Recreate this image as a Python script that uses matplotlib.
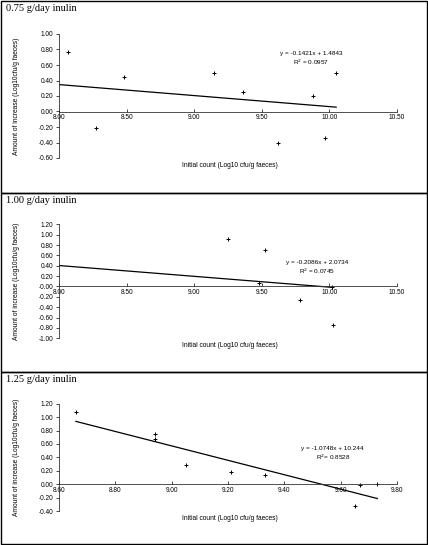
import matplotlib
matplotlib.use("Agg")
import matplotlib.pyplot as plt
from matplotlib.patches import Rectangle
import numpy as np

plt.rcParams['font.family'] = ['Liberation Sans', 'DejaVu Sans']

# donnees
titres = ["0.75 g/day inulin", "1.00 g/day inulin", "1.25 g/day inulin"]

x_075 = [8.07, 8.27, 8.48, 9.15, 9.36, 9.62, 9.88, 9.97, 10.05]
y_075 = [0.77, -0.21, 0.45, 0.50, 0.25, -0.41, 0.20, -0.34, 0.50]

x_100 = [9.25, 9.52, 9.48, 9.78, 10.03, 10.02]
y_100 = [0.92, 0.71, 0.06, -0.26, -0.75, -0.01]

x_125 = [8.66, 8.94, 8.94, 9.05, 9.21, 9.33, 9.67, 9.73, 9.65]
y_125 = [1.08, 0.75, 0.67, 0.29, 0.18, 0.13, -0.01, 0.01, -0.32]

# droites de tendance (pente, ordonnee) et etendue
pentes = [-0.1421, -0.2086, -1.0748]
ordonnees = [1.4843, 2.0734, 10.244]
etendues = [(8.00, 10.05), (8.00, 10.03), (8.66, 9.73)]
equations = ["y = -0.1421x + 1.4843", "y = -0.2086x + 2.0734", "y = -1.0748x + 10.244"]
r2_textes = ["R$^2$ = 0.0957", "R$^2$ = 0.0745", "R$^2$= 0.8528"]

xlims = [(8.0, 10.5), (8.0, 10.5), (8.6, 9.8)]
xpas = [0.5, 0.5, 0.2]
ylims = [(-0.6, 1.0), (-1.0, 1.2), (-0.4, 1.2)]

W, H = 428, 545
fig = plt.figure(figsize=(W / 100, H / 100), dpi=100)

# positions en pixels : (haut axe, bas axe), cadre (haut, bas), titre, label x, equation
axes_px = [(34, 158), (224.3, 338.3), (403.7, 511)]
cadres = [(1, 193), (193, 372), (372, 544)]
titre_y = [8.5, 200.7, 380]
xlabel_y = [165.7, 345.7, 519]
eq_pos = [(311, 53.7), (316.7, 262.3), (332.7, 448.7)]

donnees = [(x_075, y_075), (x_100, y_100), (x_125, y_125)]

for i in range(3):
    haut, bas = axes_px[i]
    ax = fig.add_axes([59 / W, 1 - bas / H, (397 - 59) / W, (bas - haut) / H])
    xs, ys = donnees[i]
    ax.plot(xs, ys, '+', color='black', markersize=2.5, markeredgewidth=0.7)
    xl = np.array(etendues[i])
    ax.plot(xl, pentes[i] * xl + ordonnees[i], color='black', linewidth=0.9)

    ax.set_xlim(*xlims[i])
    ax.set_ylim(*ylims[i])
    ax.set_xticks(np.arange(xlims[i][0], xlims[i][1] + 0.001, xpas[i]))
    ax.set_yticks(np.arange(ylims[i][0], ylims[i][1] + 0.001, 0.2))
    ax.xaxis.set_major_formatter(plt.FormatStrFormatter('%.2f'))
    ax.yaxis.set_major_formatter(plt.FormatStrFormatter('%.2f'))
    ax.spines['top'].set_visible(False)
    ax.spines['right'].set_visible(False)
    ax.spines['bottom'].set_position(('data', 0))
    for s in ['left', 'bottom']:
        ax.spines[s].set_linewidth(0.6)
        ax.spines[s].set_color('#333333')
    ax.tick_params(axis='x', direction='in', length=2.5, width=0.5, labelsize=4.7, pad=2)
    ax.tick_params(axis='y', direction='out', length=2.5, width=0.5, labelsize=4.7, pad=1.5)
    ax.patch.set_alpha(0)

    # equation
    ex, ey = eq_pos[i]
    fig.text(ex / W, 1 - ey / H, equations[i], fontsize=4.6, ha='center', va='center')
    fig.text(ex / W, 1 - (ey + 9) / H, r2_textes[i], fontsize=4.6, ha='center', va='center')

    fig.text(230 / W, 1 - xlabel_y[i] / H, "Initial count (Log10 cfu/g faeces)",
             fontsize=4.8, ha='center', va='center')
    fig.text(17 / W, 1 - (haut + bas) / 2 / H, "Amount of increase (Log10cfu/g faeces)",
             fontsize=4.8, ha='center', va='center', rotation=90)

    fig.text(6 / W, 1 - titre_y[i] / H, titres[i], fontsize=7.5,
             family='Liberation Serif', ha='left', va='center')

    ch, cb = cadres[i]
    fig.patches.append(Rectangle((0.5 / W, 1 - cb / H), (W - 1.5) / W, (cb - ch) / H,
                                 transform=fig.transFigure, fill=False,
                                 edgecolor='black', linewidth=1.0))

fig.savefig("out.png", dpi=100, facecolor='white')
